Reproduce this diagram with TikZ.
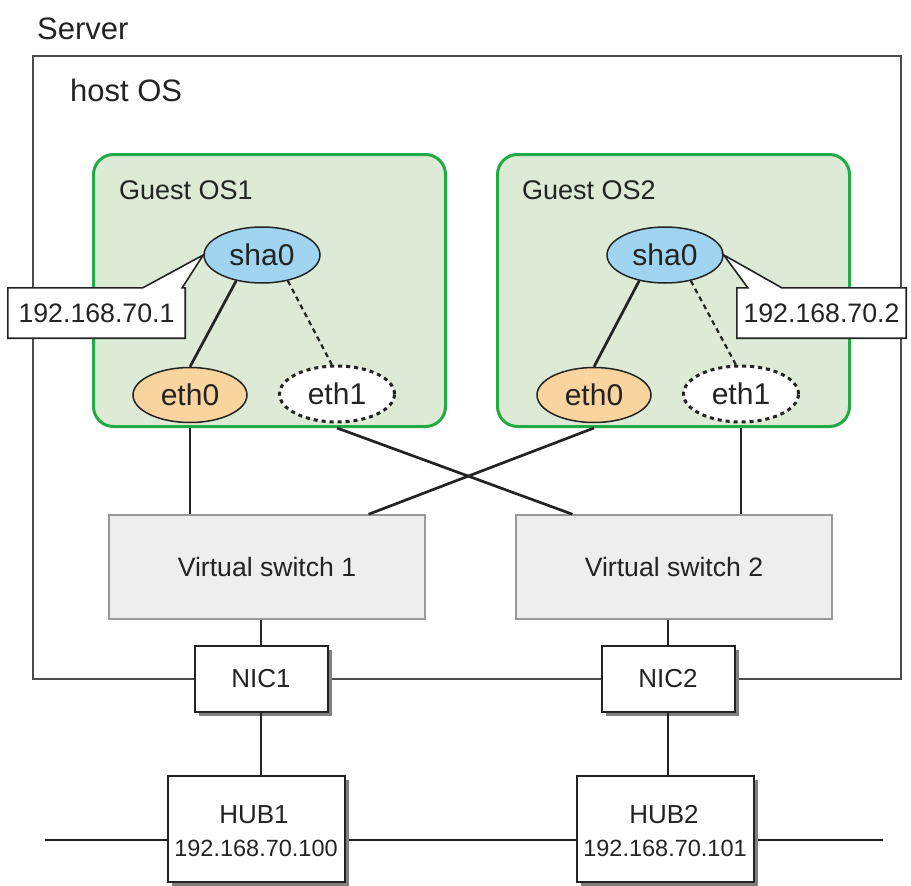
\documentclass[tikz,border=0pt]{standalone}
\usepackage{fontspec}
\setmainfont{Liberation Sans}
\usetikzlibrary{shapes.geometric,shadows,calc}

\definecolor{guestgreen}{RGB}{34,170,68}
\definecolor{guestfill}{RGB}{221,235,214}
\definecolor{shafill}{RGB}{160,212,240}
\definecolor{ethfill}{RGB}{250,212,158}
\definecolor{vsfill}{RGB}{238,238,238}
\definecolor{inkdark}{RGB}{35,35,35}

\tikzset{
  fs/.style={font=\fontsize{#1}{#1}\selectfont},
  plainlbl/.style={anchor=west, inner sep=0pt, fs=#1},
  guestbox/.style={draw=guestgreen, line width=3pt, fill=guestfill, rounded corners=20pt,
    anchor=north west, minimum width=352pt, minimum height=272pt, inner sep=0pt},
  ifell/.style={ellipse, draw=inkdark, line width=1.5pt, minimum width=116pt,
    minimum height=56pt, inner sep=1pt, fs=30},
  shaif/.style={ifell, fill=shafill},
  ethif/.style={ifell, fill=ethfill, minimum width=114pt, minimum height=55pt},
  stbyif/.style={ifell, fill=white, line width=3pt, dash pattern=on 4pt off 4pt,
    minimum width=115pt},
  vswitch/.style={draw=black!40, line width=1.5pt, fill=vsfill, minimum width=316pt,
    minimum height=104pt, fs=26.6},
  nicbox/.style={draw=inkdark, line width=2pt, fill=white, minimum width=133pt,
    minimum height=66pt, fs=26,
    drop shadow={shadow xshift=4pt, shadow yshift=-4pt, fill=black!50, opacity=1}},
  hubbox/.style={nicbox, minimum width=177pt, minimum height=106pt},
  calloutbox/.style={minimum height=50pt, inner sep=0pt},
  callout/.style={draw=inkdark, line width=1.6pt, fill=white},
  link/.style={draw=inkdark, line width=2.7pt},
  stbylink/.style={draw=inkdark, line width=2.2pt, dash pattern=on 5pt off 4pt}
}

\begin{document}
\begin{tikzpicture}[x=1pt,y=-1pt,text=inkdark]
    \useasboundingbox (0,0) rectangle (911,886);

    % server and host OS
    \node[plainlbl=31] (server) at (37,28.5) {Server};
    \draw[black!70, line width=2.2pt] (33,56) rectangle (901,679);
    \node[plainlbl=31] (hostos) at (70,90) {host OS};

    % guest OS boxes
    \node[guestbox] (gos1) at (92,153) {};
    \node[guestbox] (gos2) at (496,153) {};
    \node[plainlbl=27] (gos1lbl) at (119,190) {Guest OS1};
    \node[plainlbl=27] (gos2lbl) at (522,190) {Guest OS2};

    \node[shaif] (sha0a) at (262,255) {sha0};
    \node[ethif] (eth0a) at (190,395) {eth0};
    \node[stbyif] (eth1a) at (337,394) {eth1};
    \node[shaif] (sha0b) at (665,255) {sha0};
    \node[ethif] (eth0b) at (594,395) {eth0};
    \node[stbyif] (eth1b) at (741,394) {eth1};

    \draw[link] (sha0a.225) -- (eth0a.north);
    \draw[stbylink] (sha0a.-45) -- (eth1a.100);
    \draw[link] (sha0b.225) -- (eth0b.north);
    \draw[stbylink] (sha0b.-45) -- (eth1b.100);

    % virtual switches
    \node[vswitch] (vs1) at (267,567) {Virtual switch 1};
    \node[vswitch] (vs2) at (674,567) {Virtual switch 2};

    \draw[link] (gos1.south -| eth0a) -- (eth0a |- vs1.north);
    \draw[link] (gos1.south -| eth1a) -- ($(vs2.north west)!0.18!(vs2.north east)$);
    \draw[link] (gos2.south -| eth0b) -- ($(vs1.north west)!0.82!(vs1.north east)$);
    \draw[link] (gos2.south -| eth1b) -- (eth1b |- vs2.north);

    % LAN
    \coordinate (busW) at (45,840);
    \coordinate (busE) at (883,840);
    \draw[link] (busW) -- (busE);

    \node[nicbox] (nic1) at (261,679) {NIC1};
    \node[nicbox] (nic2) at (668,679) {NIC2};
    \node[hubbox] (hub1) at (256,829) {};
    \node[hubbox] (hub2) at (665,829) {};
    \node[fs=26, inner sep=0pt] (hub1name) at (254,815) {HUB1};
    \node[fs=23.5, inner sep=0pt] (hub1ip) at (256,848) {192.168.70.100};
    \node[fs=26, inner sep=0pt] (hub2name) at (664,815) {HUB2};
    \node[fs=23.5, inner sep=0pt] (hub2ip) at (665,848) {192.168.70.101};

    \draw[link] (nic1.north) -- (nic1.north |- vs1.south);
    \draw[link] (nic2.north) -- (nic2.north |- vs2.south);
    \draw[link] (nic1.south) -- (nic1.south |- hub1.north);
    \draw[link] (nic2.south) -- (nic2.south |- hub2.north);

    % IP address callouts
    \node[calloutbox, minimum width=177pt] (c1) at (96.5,313) {};
    \draw[callout] (c1.north west) -- ($(c1.north west)+(135,0)$) -- (sha0a.west)
        -- ($(c1.north east)+(-3,0)$) -- (c1.north east) -- (c1.south east)
        -- (c1.south west) -- cycle;
    \node[fs=26.7, inner sep=0pt] (c1txt) at (c1) {192.168.70.1};

    \node[calloutbox, minimum width=169pt] (c2) at (821.5,313) {};
    \draw[callout] (c2.north west) -- ($(c2.north west)+(11,0)$) -- (sha0b.east)
        -- ($(c2.north west)+(45,0)$) -- (c2.north east) -- (c2.south east)
        -- (c2.south west) -- cycle;
    \node[fs=26.7, inner sep=0pt] (c2txt) at (c2) {192.168.70.2};
\end{tikzpicture}
\end{document}
